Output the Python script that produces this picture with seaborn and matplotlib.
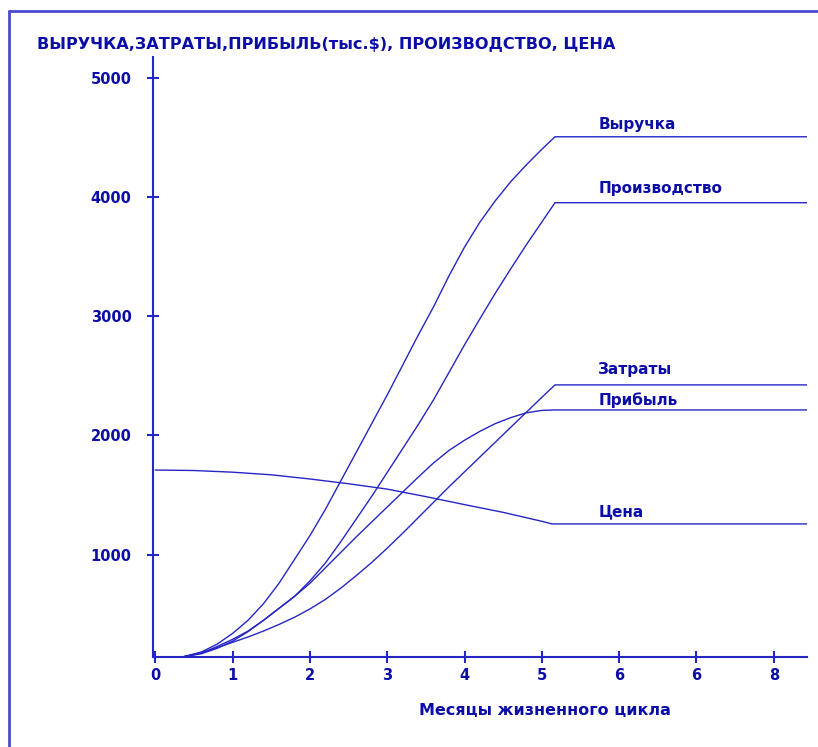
import matplotlib
matplotlib.use("Agg")
import matplotlib.pyplot as plt
from matplotlib.lines import Line2D
import seaborn as sns
import pandas as pd

# months on the rising part of the curves (plateau after 5.17)
months = [0.35, 0.6, 0.8, 1.0, 1.2, 1.4, 1.6, 1.8, 2.0, 2.2, 2.4, 2.6, 2.8, 3.0,
          3.2, 3.4, 3.6, 3.8, 4.0, 4.2, 4.4, 4.6, 4.8, 5.0, 5.17, 8.45]
revenue = [142, 185, 250, 340, 450, 590, 760, 960, 1160, 1380, 1620, 1860, 2100, 2340,
           2590, 2840, 3080, 3340, 3580, 3790, 3970, 4130, 4270, 4400, 4505, 4505]
production = [142, 170, 215, 275, 355, 450, 550, 650, 780, 930, 1110, 1300, 1490, 1690,
              1890, 2090, 2300, 2530, 2760, 2980, 3195, 3400, 3600, 3790, 3952, 3952]
costs = [142, 178, 220, 265, 310, 360, 415, 475, 545, 625, 720, 825, 935, 1055,
         1180, 1310, 1440, 1570, 1695, 1820, 1945, 2070, 2195, 2320, 2424, 2424]
profit = [142, 175, 230, 290, 360, 450, 550, 650, 760, 890, 1020, 1150, 1275, 1400,
          1525, 1650, 1770, 1875, 1960, 2035, 2100, 2150, 2190, 2210, 2214, 2214]

price_months = [0, 0.5, 1.0, 1.5, 2.0, 2.5, 3.0, 3.5, 4.0, 4.5, 5.0, 5.13, 8.45]
price = [1710, 1706, 1692, 1670, 1635, 1595, 1550, 1487, 1420, 1355, 1280, 1258, 1258]

series_names = ["Выручка", "Производство", "Затраты", "Прибыль", "Цена"]
label_y = [4604, 4075, 2549, 2298, 1358]

x_ticks = [0, 1, 2, 3, 4, 5, 6, 7, 8]
x_tick_labels = ["0", "1", "2", "3", "4", "5", "6", "6", "8"]
y_ticks = [1000, 2000, 3000, 4000, 5000]

rows = []
for name, vals in zip(series_names[:4], [revenue, production, costs, profit]):
    for m, v in zip(months, vals):
        rows.append({"month": m, "value": v, "series": name})
for m, v in zip(price_months, price):
    rows.append({"month": m, "value": v, "series": "Цена"})
df = pd.DataFrame(rows)

sns.set_style("white")
plt.rcParams["font.family"] = ["DejaVu Sans"]

text_col = "#0c0ca8"
line_col = "#2626c4"

fig = plt.figure(figsize=(8.18, 7.47), dpi=100)
ax = fig.add_axes([153 / 818, 90 / 747, (807 - 153) / 818, (690 - 90) / 747])

sns.lineplot(data=df, x="month", y="value", units="series", estimator=None,
             sort=False, color=line_col, linewidth=1.0, ax=ax, legend=False)

for name, yv in zip(series_names, label_y):
    ax.text(5.73, yv, name, color=text_col, fontsize=11, fontweight="bold",
            va="center", ha="left")

ax.set_xlim(-0.03, 8.43)
ax.set_ylim(142, 5174)
ax.set_xticks(x_ticks)
ax.set_xticklabels(x_tick_labels)
ax.set_yticks(y_ticks)
ax.tick_params(axis="both", direction="inout", colors=line_col, width=1.5,
               labelcolor=text_col, labelsize=10.5, bottom=True, left=True)
ax.tick_params(axis="y", length=9, pad=11)
ax.tick_params(axis="x", length=8, pad=4)
for lab in ax.get_xticklabels() + ax.get_yticklabels():
    lab.set_fontweight("bold")

for side in ["top", "right"]:
    ax.spines[side].set_visible(False)
for side in ["left", "bottom"]:
    ax.spines[side].set_color(line_col)
    ax.spines[side].set_linewidth(1.5)

ax.set_xlabel("Месяцы жизненного цикла", color=text_col, fontsize=11.5,
              fontweight="bold")
ax.xaxis.set_label_coords((545 - 153) / (807 - 153), -0.077)
ax.set_ylabel("")

fig.text(37 / 818, 1 - 45 / 747, "ВЫРУЧКА,ЗАТРАТЫ,ПРИБЫЛЬ(тыс.$), ПРОИЗВОДСТВО, ЦЕНА",
         color=text_col, fontsize=11.6, fontweight="bold",
         va="center", ha="left")

# frame lines at the top and left edge of the picture
fig.add_artist(Line2D([9 / 818, 1], [1 - 11 / 747, 1 - 11 / 747],
                      transform=fig.transFigure, color="#4a4ad0", linewidth=2))
fig.add_artist(Line2D([9 / 818, 9 / 818], [0, 1 - 11 / 747],
                      transform=fig.transFigure, color="#4a4ad0", linewidth=2))

fig.savefig("out.png", dpi=100)
